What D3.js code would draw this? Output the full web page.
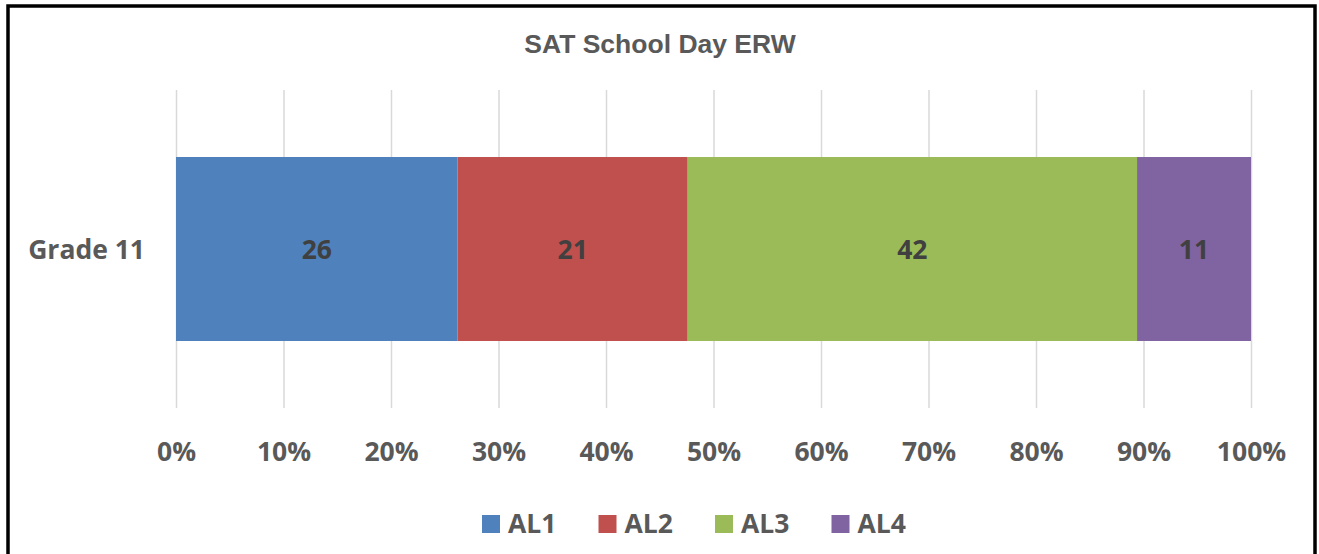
<!DOCTYPE html>
<html>
<head>
<meta charset="utf-8">
<script src="https://cdn.jsdelivr.net/npm/d3@7"></script>
<style>
  html, body { margin: 0; padding: 0; background: #fff; }
  svg { display: block; }
</style>
</head>
<body>
<svg id="chart"></svg>
<script>
// data (percent of students, Grade 11)
const categories = ["Grade 11"];
const series = ["AL1", "AL2", "AL3", "AL4"];
const values = [26.2, 21.4, 41.8, 10.6];
const colors = ["#4f81bd", "#c0504d", "#9bbb59", "#8064a2"];
const tickValues = [0, 10, 20, 30, 40, 50, 60, 70, 80, 90, 100];

const width = 1319,
  height = 554;

const svg = d3.select("#chart").attr("width", width).attr("height", height);

// outer frame (bottom edge runs off the picture)
svg.append("rect")
  .attr("x", 8).attr("y", 6)
  .attr("width", 1307).attr("height", 600)
  .attr("fill", "#fff")
  .attr("stroke", "#000")
  .attr("stroke-width", 3.5);

const x = d3.scaleLinear().domain([0, 100]).range([176, 1251]);
const y = d3.scaleBand().domain(categories).range([90, 408]).padding(0.267);

// title
svg.append("text")
  .attr("x", 660).attr("y", 53)
  .attr("text-anchor", "middle")
  .style("font-family", "'Liberation Sans', Arial, sans-serif")
  .style("font-weight", "bold")
  .style("font-size", "26.5px")
  .style("fill", "#595959")
  .text("SAT School Day ERW");

// gridlines
const grid = svg.append("g")
  .attr("transform", "translate(0,408)")
  .call(d3.axisBottom(x).tickValues(tickValues).tickSize(-(408 - 90)).tickFormat(""));
grid.select(".domain").remove();
grid.selectAll("line").attr("stroke", "#d9d9d9").attr("stroke-width", 1.5);

// tick labels
const labels = svg.append("g")
  .attr("transform", "translate(0,461)")
  .call(d3.axisBottom(x).tickValues(tickValues).tickSize(0).tickFormat((d) => d + "%"));
labels.select(".domain").remove();
labels.selectAll("text")
  .attr("y", 0).attr("dy", 0)
  .style("font-family", "'Open Sans', sans-serif")
  .style("font-weight", "bold")
  .style("font-size", "26.5px")
  .style("fill", "#595959");

// category label
svg.selectAll(".cat")
  .data(categories)
  .enter()
  .append("text")
  .attr("x", 145)
  .attr("y", (d) => y(d) + y.bandwidth() / 2 + 10)
  .attr("text-anchor", "end")
  .style("font-family", "'Open Sans', sans-serif")
  .style("font-weight", "bold")
  .style("font-size", "26.5px")
  .style("fill", "#595959")
  .text((d) => d);

// stacked segments
const row = {};
series.forEach((s, i) => (row[s] = values[i]));
const stacked = d3.stack().keys(series)([row]);

svg.selectAll(".seg")
  .data(stacked)
  .enter()
  .append("rect")
  .attr("x", (d) => x(d[0][0]))
  .attr("y", y(categories[0]))
  .attr("width", (d) => x(d[0][1]) - x(d[0][0]))
  .attr("height", y.bandwidth())
  .attr("fill", (d, i) => colors[i]);

svg.selectAll(".val")
  .data(stacked)
  .enter()
  .append("text")
  .attr("x", (d) => (x(d[0][0]) + x(d[0][1])) / 2)
  .attr("y", y(categories[0]) + y.bandwidth() / 2 + 10)
  .attr("text-anchor", "middle")
  .style("font-family", "'Open Sans', sans-serif")
  .style("font-weight", "bold")
  .style("font-size", "26.5px")
  .style("fill", "#404040")
  .text((d) => d3.format(".0f")(d[0][1] - d[0][0]));

// legend
const lx = d3.scaleBand().domain(series).range([482, 482 + 4 * 116.5]);
const legend = svg.selectAll(".leg")
  .data(series)
  .enter()
  .append("g")
  .attr("transform", (d) => `translate(${lx(d)},515)`);
legend.append("rect")
  .attr("width", 18).attr("height", 18)
  .attr("fill", (d, i) => colors[i]);
legend.append("text")
  .attr("x", 26).attr("y", 18)
  .style("font-family", "'Open Sans', sans-serif")
  .style("font-weight", "bold")
  .style("font-size", "26.5px")
  .style("fill", "#595959")
  .text((d) => d);
</script>
</body>
</html>
